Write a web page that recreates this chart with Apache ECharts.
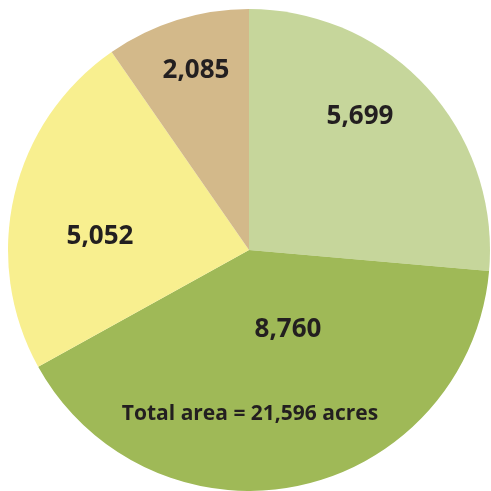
<!DOCTYPE html>
<html>
<head>
<meta charset="utf-8">
<script src="https://cdn.jsdelivr.net/npm/echarts@6/dist/echarts.min.js"></script>
<style>html,body{margin:0;padding:0;background:#fff;}#c{width:491px;height:491px;}</style>
</head>
<body>
<div id="c"></div>
<script>
var categories = ['A', 'B', 'C', 'D'];
var values = [5699, 8760, 5052, 2085];
var totalLabel = 'Total area = 21,596 acres';

var colors = ['#c6d69b', '#9fb957', '#f8ef8f', '#d3b98a'];
var labelPos = [[360, 117], [288, 330], [100, 237], [196, 71]];

var chart = echarts.init(document.getElementById('c'), null, {renderer: 'canvas'});
chart.setOption({
  animation: false,
  series: [{
    type: 'pie',
    center: [249, 250],
    radius: [0, 241],
    startAngle: 90,
    clockwise: true,
    silent: true,
    data: categories.map(function (c, i) {
      return {name: c, value: values[i], itemStyle: {color: colors[i]}};
    }),
    label: {
      show: true,
      position: 'inside',
      formatter: function (p) { return p.value.toLocaleString('en-US'); },
      color: '#231f20',
      fontFamily: 'Open Sans',
      fontWeight: 'bold',
      fontSize: 26
    },
    labelLine: {show: false},
    labelLayout: function (p) {
      return {x: labelPos[p.dataIndex][0], y: labelPos[p.dataIndex][1], align: 'center', verticalAlign: 'middle'};
    }
  }],
  graphic: [{
    type: 'text',
    z: 100,
    x: 250,
    y: 414,
    style: {
      text: totalLabel,
      fill: '#231f20',
      font: 'bold 21px "Open Sans"',
      textAlign: 'center',
      textVerticalAlign: 'middle'
    }
  }]
});
</script>
</body>
</html>
